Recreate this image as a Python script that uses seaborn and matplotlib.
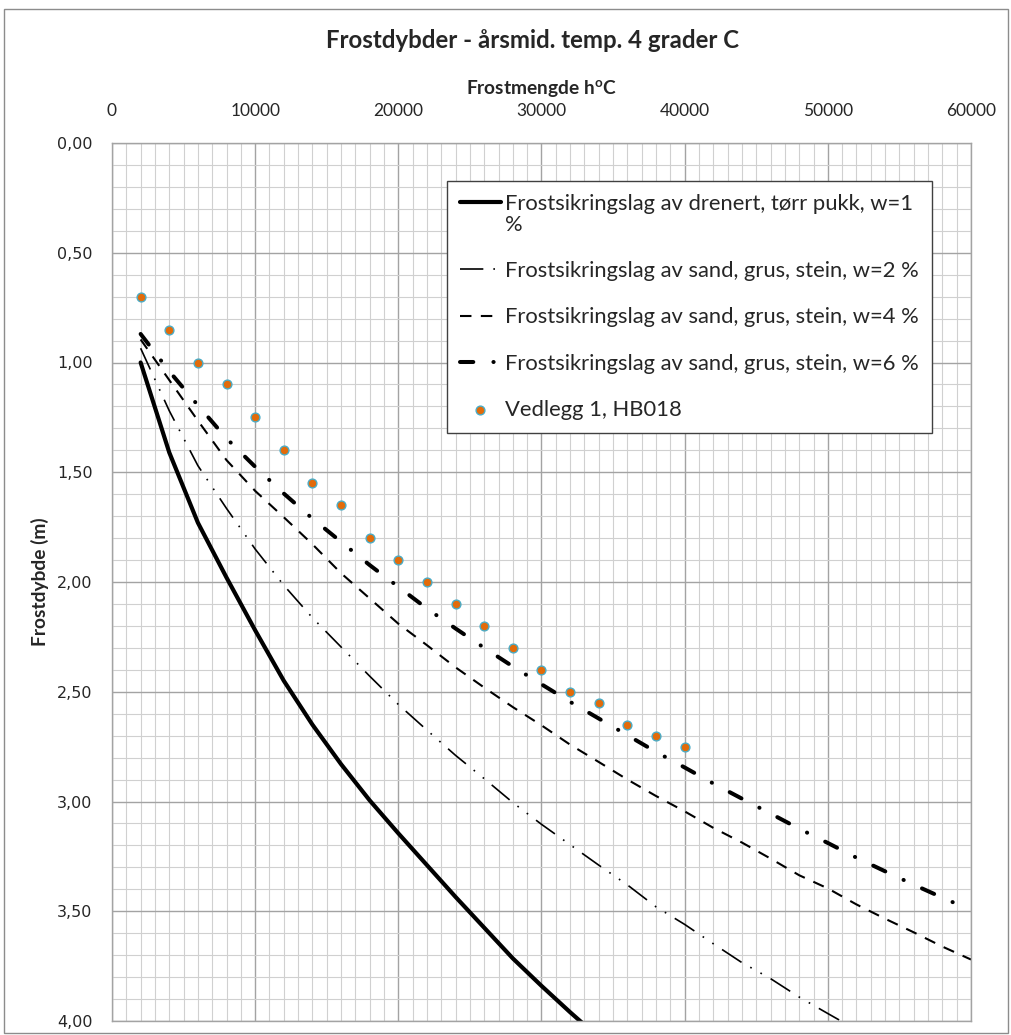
import matplotlib
matplotlib.use("Agg")
import matplotlib.pyplot as plt
import seaborn as sns
from matplotlib.ticker import MultipleLocator, FuncFormatter
from matplotlib.patches import Rectangle

# Frost amount (h°C) for the computed curves
frost_x = list(range(2000, 60001, 2000))

# Frost depth (m) per layer type
depth_w1 = [1.00, 1.41, 1.73, 1.98, 2.22, 2.45, 2.65, 2.83, 2.995, 3.145, 3.29, 3.435,
            3.575, 3.715, 3.84, 3.96, 4.075]
depth_w2 = [0.935, 1.22, 1.47, 1.665, 1.85, 2.015, 2.163, 2.296, 2.429, 2.558, 2.675,
            2.79, 2.896, 3.005, 3.104, 3.197, 3.29, 3.38, 3.48, 3.56, 3.648, 3.734,
            3.807, 3.891, 3.966, 4.04]
depth_w4 = [0.895, 1.08, 1.265, 1.445, 1.585, 1.705, 1.828, 1.96, 2.075, 2.19, 2.288,
            2.389, 2.481, 2.57, 2.653, 2.741, 2.82, 2.9, 2.975, 3.045, 3.12, 3.187,
            3.26, 3.336, 3.396, 3.469, 3.534, 3.596, 3.661, 3.72]
depth_w6 = [0.87, 1.04, 1.195, 1.346, 1.475, 1.597, 1.711, 1.817, 1.923, 2.022, 2.121,
            2.212, 2.30, 2.385, 2.466, 2.546, 2.622, 2.698, 2.774, 2.845, 2.918, 2.987,
            3.055, 3.124, 3.189, 3.256, 3.318, 3.379, 3.438, 3.495]

# Reference points, Vedlegg 1 HB018
hb018_x = list(range(2000, 40001, 2000))
hb018_depth = [0.70, 0.85, 1.00, 1.10, 1.25, 1.40, 1.55, 1.65, 1.80, 1.90, 2.00, 2.10,
               2.20, 2.30, 2.40, 2.50, 2.55, 2.65, 2.70, 2.75]

labels = [
    "Frostsikringslag av drenert, tørr pukk, w=1\n%",
    "Frostsikringslag av sand, grus, stein, w=2 %",
    "Frostsikringslag av sand, grus, stein, w=4 %",
    "Frostsikringslag av sand, grus, stein, w=6 %",
    "Vedlegg 1, HB018",
]

x_ticks = [0, 10000, 20000, 30000, 40000, 50000, 60000]
y_ticks = [0.0, 0.5, 1.0, 1.5, 2.0, 2.5, 3.0, 3.5, 4.0]

sns.set_style("white")
plt.rcParams["font.family"] = ["Lato", "DejaVu Sans"]
plt.rcParams["mathtext.default"] = "regular"

W, H = 1012, 1035
fig = plt.figure(figsize=(W / 100, H / 100), dpi=100)
ax = fig.add_axes([112 / W, 1 - 1021 / H, 859 / W, 878 / H])

# outer chart border
fig.patches.append(Rectangle((4 / W, 2 / H), 1004 / W, 1 - 11 / H, transform=fig.transFigure,
                             fill=False, edgecolor="#8c8c8c", linewidth=1.0))

sns.lineplot(x=frost_x[:len(depth_w1)], y=depth_w1, ax=ax, color="black", linewidth=3.0,
             label=labels[0], sort=False, estimator=None, solid_capstyle="round")
sns.lineplot(x=frost_x[:len(depth_w2)], y=depth_w2, ax=ax, color="black", linewidth=1.2,
             linestyle=(0, (14, 6, 1, 6, 1, 6)), label=labels[1], sort=False, estimator=None)
sns.lineplot(x=frost_x, y=depth_w4, ax=ax, color="black", linewidth=1.5,
             linestyle=(0, (5.5, 4.5)), label=labels[2], sort=False, estimator=None)
sns.lineplot(x=frost_x, y=depth_w6, ax=ax, color="black", linewidth=2.9,
             linestyle=(0, (3.3, 5.0, 0.05, 5.0)), dash_capstyle="round",
             label=labels[3], sort=False, estimator=None)
sns.scatterplot(x=hb018_x, y=hb018_depth, ax=ax, color="#E26B0A", edgecolor="#4BACC6",
                linewidth=1.0, s=40, label=labels[4], zorder=5)

ax.set_xlim(0, 60000)
ax.set_ylim(4.0, 0.0)
ax.set_xticks(x_ticks)
ax.set_yticks(y_ticks)
ax.xaxis.set_minor_locator(MultipleLocator(1000))
ax.yaxis.set_minor_locator(MultipleLocator(0.1))
ax.xaxis.tick_top()
ax.xaxis.set_label_position("top")
ax.yaxis.set_major_formatter(FuncFormatter(lambda v, p: f"{v:.2f}".replace(".", ",")))
ax.xaxis.set_major_formatter(FuncFormatter(lambda v, p: f"{int(v)}"))
ax.tick_params(which="both", length=0)
ax.tick_params(axis="x", pad=17, labelsize=12.5)
ax.tick_params(axis="y", pad=14, labelsize=12)
for t in ax.get_yticklabels():
    t.set_fontfamily("DejaVu Sans")
    t.set_fontsize(11.5)

ax.set_axisbelow(True)
ax.grid(which="minor", color="#d0d0d0", linewidth=0.8)
ax.grid(which="major", color="#a3a3a3", linewidth=1.0)
for s in ax.spines.values():
    s.set_color("#a3a3a3")
    s.set_linewidth(1.0)

ax.set_xlabel("Frostmengde h$^{o}$C", fontsize=13.8, fontweight="bold", labelpad=7)
ax.set_ylabel("Frostdybde (m)", fontsize=13.8, fontweight="bold", labelpad=6)
fig.text(533 / W, 1 - 40 / H, "Frostdybder - årsmid. temp. 4 grader C",
         ha="center", va="center", fontsize=17.3, fontweight="bold")

handles, labs = ax.get_legend_handles_labels()
leg = ax.legend(handles, labs, loc="upper left", bbox_to_anchor=(0.39, 0.957),
                borderaxespad=0, fontsize=15.8, frameon=True, fancybox=False,
                edgecolor="#404040", framealpha=1, handlelength=1.85, handletextpad=0.2,
                labelspacing=1.2, borderpad=0.6)
leg.get_frame().set_linewidth(1.0)
leg.get_texts()[0].set_linespacing(1.05)
first_row = leg._legend_handle_box.get_children()[0].get_children()[0]
first_row.align = "top"

fig.savefig("out.png", dpi=100)
